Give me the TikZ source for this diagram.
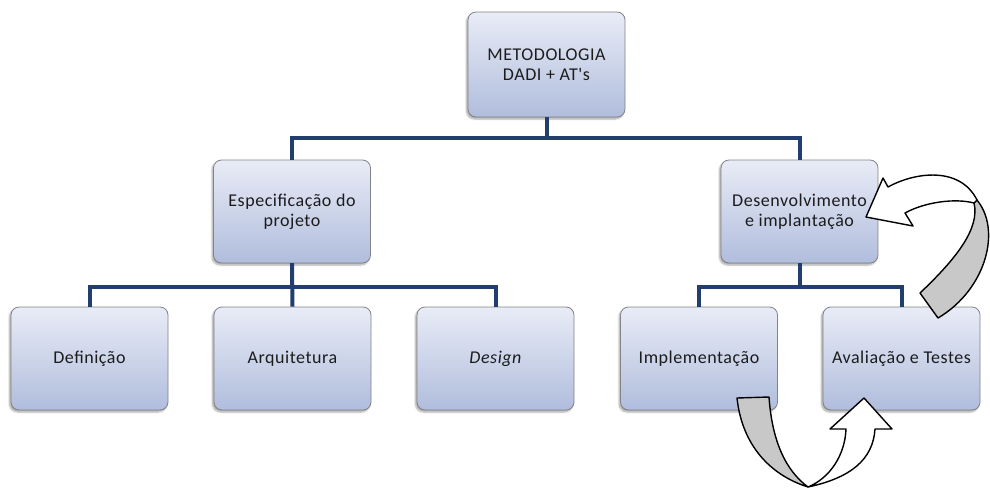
\documentclass[tikz,border=0pt]{standalone}
\usepackage{fontspec}
\newfontfamily\boxfont{Carlito}[LetterSpace=3]
\usetikzlibrary{shadows.blur}
\definecolor{conncol}{RGB}{33,62,108}
\definecolor{boxtop}{RGB}{233,236,247}
\definecolor{boxbot}{RGB}{176,189,220}
\definecolor{boxline}{RGB}{130,130,135}
\definecolor{txt}{RGB}{28,28,28}
\definecolor{arrg}{RGB}{200,200,200}
\begin{document}
\begin{tikzpicture}[x=1pt,y=-1pt,
  box/.style={rectangle, rounded corners=8pt, draw=boxline, line width=0.8pt,
    top color=boxtop, bottom color=boxbot, minimum width=157pt, minimum height=103pt,
    inner sep=0pt, align=center, text=txt, font=\boxfont\fontsize{18}{20}\selectfont,
    blur shadow={shadow xshift=-1.5pt, shadow yshift=-2pt, shadow blur steps=6, shadow opacity=35}},
  conn/.style={draw=conncol, line width=4pt, line join=miter},
  arrw/.style={draw=black, line width=1.4pt, fill=white, line join=round},
  arrgr/.style={draw=black, line width=1.4pt, fill=arrg, line join=round}]
\useasboundingbox (0,0) rectangle (990,488);

% boxes
\node[box, minimum height=105pt] (top) at (546.5,64.5) {METODOLOGIA\\DADI + AT's};
\node[box] (spec) at (292,211.5) {Especificação do\\projeto};
\node[box] (dev) at (799.5,211.5) {Desenvolvimento\\e implantação};
\node[box] (def) at (89.5,358.5) {Definição};
\node[box] (arq) at (292.5,358.5) {Arquitetura};
\node[box] (des) at (495.5,358.5) {\itshape Design};
\node[box] (imp) at (699,358.5) {Implementação};
\node[box] (ava) at (901.5,358.5) {Avaliação e Testes};

% connectors
\draw[conn] (top.south) -- ++(0,21) -| (spec.north);
\draw[conn] (top.south) -- ++(0,21) -| (dev.north);
\draw[conn] (spec.south) -- ++(0,24) -| (def.north);
\draw[conn] (spec.south) -- (arq.north);
\draw[conn] (spec.south) -- ++(0,24) -| (des.north);
\draw[conn] (dev.south) -- ++(0,24) -| (imp.north);
\draw[conn] (dev.south) -- ++(0,24) -| (ava.north);

% curved arrow: Avaliação -> Desenvolvimento
\filldraw[arrgr] (976,199) .. controls (1002,228) and (987,289) .. (938,318)
  -- (920,293) .. controls (957,258) and (980,228) .. (974,203) -- cycle;
\filldraw[arrw] (866,217) -- (883,178) -- (888,187)
  .. controls (915,172) and (960,166) .. (977,200) -- (974,203)
  .. controls (955,198) and (925,202) .. (905,213) -- (913,226) -- cycle;

% curved arrow: Implementação -> Avaliação
\filldraw[arrgr] (737,398) -- (769,397) .. controls (772,440) and (785,470) .. (808,487)
  .. controls (770,475) and (742,445) .. (737,398) -- cycle;
\filldraw[arrw] (808,487) .. controls (850,478) and (873,460) .. (875,429)
  -- (892,429) -- (864,398) -- (830,429) -- (846,429)
  .. controls (845,455) and (830,478) .. (808,487) -- cycle;
\end{tikzpicture}
\end{document}
